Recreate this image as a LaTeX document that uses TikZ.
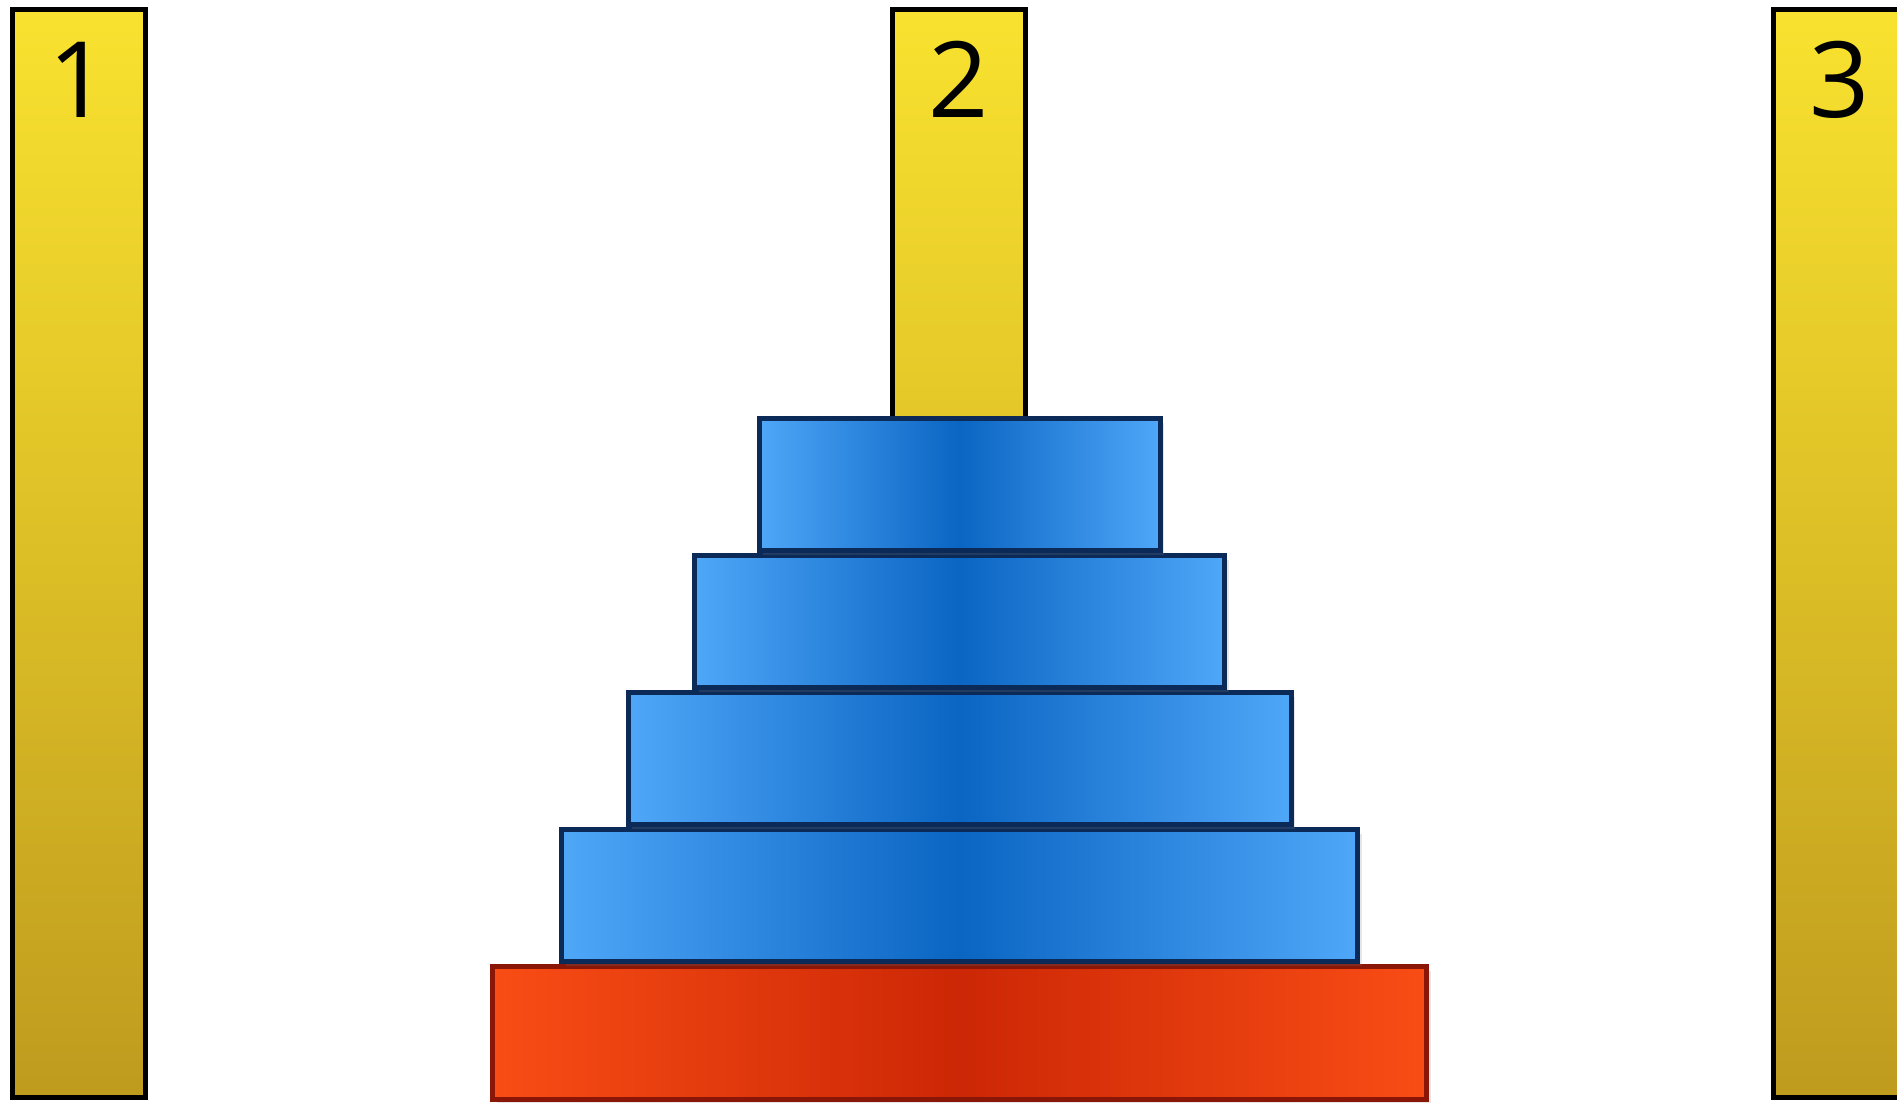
\documentclass[tikz,border=0pt]{standalone}
\usepackage{fontspec}
\setmainfont{Open Sans}
\usetikzlibrary{positioning,shadows}

\definecolor{pegtop}{HTML}{F9E22F}
\definecolor{pegbot}{HTML}{BF9B1E}
\definecolor{disklt}{HTML}{4FA7F8}
\definecolor{diskdk}{HTML}{0A65C3}
\definecolor{diskedge}{HTML}{0B2A58}
\definecolor{baselt}{HTML}{F94D15}
\definecolor{basedk}{HTML}{CC2706}
\definecolor{baseedge}{HTML}{8A1607}

\begin{document}
\begin{tikzpicture}[
    peg/.style={draw=black, line width=0.05cm, top color=pegtop, bottom color=pegbot,
      minimum width=1.33cm, minimum height=10.88cm, inner sep=0pt},
    disk/.style={draw=diskedge, line width=0.05cm, left color=disklt, right color=disklt,
      middle color=diskdk, minimum height=1.32cm, inner sep=0pt,
      drop shadow={opacity=0.2, shadow xshift=0.04cm, shadow yshift=-0.04cm}},
    basedisk/.style={disk, draw=baseedge, left color=baselt, right color=baselt, middle color=basedk},
    pegnum/.style={font=\fontsize{30}{36}\selectfont, anchor=base}
  ]
    \clip (0,0) rectangle (18.97,11.03);
    \useasboundingbox (0,0) rectangle (18.97,11.03);

    % Pegs
    \node[peg] (peg1) at (0.79,5.49) {};
    \node[peg] (peg2) at (9.59,5.49) {};
    \node[peg] (peg3) at (18.40,5.49) {};

    % Peg numbers
    \node[pegnum] (num1) at ([yshift=-1.10cm]peg1.north) {1};
    \node[pegnum] (num2) at ([yshift=-1.10cm]peg2.north) {2};
    \node[pegnum] (num3) at ([yshift=-1.10cm]peg3.north) {3};

    % Disks, stacked from the bottom
    \node[basedisk, minimum width=9.34cm] (base) at (9.595,0.70) {};
    \foreach \i/\w/\under in {4/7.96/base,3/6.63/disk4,2/5.30/disk3,1/4.01/disk2}
      \node[disk, minimum width=\w cm, above=0pt of \under] (disk\i) {};
  \end{tikzpicture}
\end{document}
